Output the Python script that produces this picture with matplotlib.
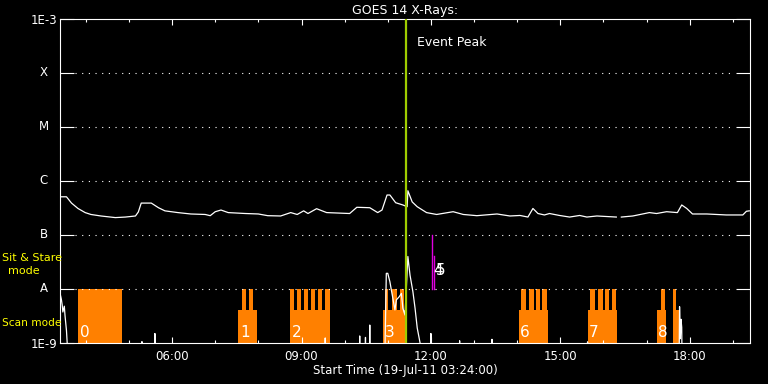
import matplotlib
matplotlib.use('Agg')
import matplotlib.pyplot as plt
import matplotlib.dates as mdates
import numpy as np
import pandas as pd

DAY = "2011-07-19 "

# long channel (1-8 A), W/m^2
long_times = ["03:24", "03:33", "03:40", "03:49", "03:59", "04:07", "04:21", "04:41", "04:55", "05:09",
              "05:13", "05:17", "05:24", "05:31", "05:41", "05:50", "06:08", "06:26", "06:46", "06:53",
              "07:00", "07:08", "07:18", "07:42", "08:00", "08:13", "08:31", "08:45", "08:54", "09:03",
              "09:09", "09:21", "09:35", "10:07", "10:17", "10:35", "10:46", "10:52", "10:59", "11:03",
              "11:11", "11:21", "11:27", "11:28", "11:34", "11:41", "11:54", "12:08", "12:31", "12:45",
              "13:04", "13:32", "13:50", "14:04", "14:15", "14:22", "14:29", "14:38", "14:45", "14:59",
              "15:13", "15:27", "15:37", "15:51", "16:18", "16:21", "16:25", "16:41", "17:04", "17:14",
              "17:28", "17:43", "17:49", "17:56", "18:04", "18:24", "18:51", "19:14", "19:19", "19:23"]
long_flux = [5.1e-7, 5.1e-7, 3.9e-7, 3.1e-7, 2.6e-7, 2.4e-7, 2.25e-7, 2.1e-7, 2.15e-7, 2.25e-7,
             2.67e-7, 3.9e-7, 3.9e-7, 3.9e-7, 3.2e-7, 2.8e-7, 2.6e-7, 2.45e-7, 2.4e-7, 2.28e-7,
             2.7e-7, 2.9e-7, 2.6e-7, 2.5e-7, 2.45e-7, 2.28e-7, 2.25e-7, 2.6e-7, 2.4e-7, 2.8e-7,
             2.5e-7, 3.07e-7, 2.6e-7, 2.5e-7, 3.26e-7, 3.2e-7, 2.6e-7, 2.9e-7, 5.5e-7, 5.5e-7,
             3.96e-7, 3.6e-7, 3.34e-7, 6.6e-7, 4.1e-7, 3.34e-7, 2.6e-7, 2.4e-7, 2.7e-7, 2.4e-7,
             2.28e-7, 2.45e-7, 2.25e-7, 2.3e-7, 2.15e-7, 3.1e-7, 2.5e-7, 2.35e-7, 2.5e-7, 2.3e-7,
             2.15e-7, 2.3e-7, 2.15e-7, 2.25e-7, 2.15e-7, np.nan, 2.15e-7, 2.25e-7, 2.6e-7, 2.5e-7,
             2.7e-7, 2.6e-7, 3.6e-7, 3.1e-7, 2.45e-7, 2.45e-7, 2.35e-7, 2.35e-7, 2.75e-7, 2.8e-7]

# short channel (0.5-4 A), mostly below 1e-9
short_times = ["03:24", "03:26", "03:27", "03:28", "03:30", "03:31", "03:33", "03:34", "03:36",
               "05:17", "05:18", "05:19", "05:35", "05:36", "05:37",
               "09:32", "09:33", "09:34", "10:20", "10:21", "10:22",
               "10:28", "10:29", "10:30", "10:34", "10:35", "10:36",
               "10:55", "10:58", "11:00", "11:03", "11:05", "11:10", "11:12", "11:16", "11:19",
               "11:21", "11:24", "11:28", "11:31", "11:35", "11:38", "11:41", "11:45", "11:47",
               "11:59", "12:00", "12:01", "12:39", "12:40", "12:41",
               "13:24", "13:25", "13:26", "15:37", "15:38", "15:39",
               "17:45", "17:46", "17:47", "17:48", "17:49", "17:50"]
short_flux = [8.4e-9, 6.3e-9, 5.1e-9, 3.75e-9, 4.8e-9, 3.2e-9, 1.7e-9, 1e-9, 1e-10,
              1e-10, 1.06e-9, 1e-10, 1e-10, 1.5e-9, 1e-10,
              1e-10, 1.24e-9, 1e-10, 1e-10, 1.35e-9, 1e-10,
              1e-10, 1.27e-9, 1e-10, 1e-10, 2.15e-9, 1e-10,
              1e-10, 1.95e-8, 1.95e-8, 1.36e-8, 9.6e-9, 4.1e-9, 6.3e-9, 7.2e-9, 8.3e-9,
              4.4e-9, 3.3e-9, 4.0e-8, 1.8e-8, 8.9e-9, 4.4e-9, 1.9e-9, 1e-9, 1e-10,
              1e-10, 1.5e-9, 1e-10, 1e-10, 1.1e-9, 1e-10,
              1e-10, 1.17e-9, 1e-10, 1e-10, 1.05e-9, 1e-10,
              1e-10, 4.7e-9, 1.2e-9, 2.75e-9, 1.95e-9, 1e-10]

# observing modes
scan_start = ["07:32", "08:44", "10:54", "14:02", "15:38", "17:14", "17:37"]
scan_end = ["07:58", "09:40", "11:24", "14:43", "16:19", "17:27", "17:45"]
stare_start = ["03:49", "07:37", "07:47", "08:44", "08:54", "09:03", "09:13", "09:23", "09:33",
               "10:56", "11:06", "11:17", "14:06", "14:16", "14:26", "14:35",
               "15:42", "15:52", "16:02", "16:12", "17:20", "17:37"]
stare_end = ["04:50", "07:43", "07:52", "08:50", "08:59", "09:09", "09:19", "09:29", "09:40",
             "11:01", "11:13", "11:23", "14:13", "14:23", "14:32", "14:42",
             "15:49", "15:59", "16:08", "16:18", "17:26", "17:41"]
stare_level = 1e-8
scan_level = 4e-9

obs_labels = ["0", "1", "2", "3", "4", "5", "6", "7", "8"]
obs_times = ["03:49", "07:32", "08:44", "10:54", "12:01", "12:05", "14:02", "15:38", "17:14"]
planned_times = ["12:01", "12:05"]
planned_top = [1e-7, 4.1e-8]

peak_time = "11:26"
yticks = [1e-9, 1e-8, 1e-7, 1e-6, 1e-5, 1e-4, 1e-3]
ylabels = ["1E-9", "A", "B", "C", "M", "X", "1E-3"]


def tt(lst):
    return pd.to_datetime([DAY + s for s in lst])


orange = '#ff8000'
fig = plt.figure(figsize=(7.68, 3.84), dpi=100, facecolor='black')
ax = fig.add_axes([60 / 768, 41 / 384, 690 / 768, 324 / 384], facecolor='black')
ax.set_yscale('log')
ax.set_ylim(1e-9, 1e-3)
ax.set_xlim(tt(["03:24", "19:24"]))

# mode bars
for s, e in zip(tt(scan_start), tt(scan_end)):
    ax.fill_between([s, e], 1e-10, scan_level, color=orange, lw=0, zorder=1)
for s, e in zip(tt(stare_start), tt(stare_end)):
    ax.fill_between([s, e], 1e-10, stare_level, color=orange, lw=0, zorder=1)

# planned windows
for t, top in zip(tt(planned_times), planned_top):
    ax.plot([t, t], [stare_level, top], color='#e000e0', lw=1.0, zorder=2)

for lab, t in zip(obs_labels, tt(obs_times)):
    y = 1.6e-8 if lab in ("4", "5") else 1.15e-9
    ax.annotate(lab, (t, y), xytext=(1.2, 0), textcoords='offset points',
                color='white', fontsize=11, va='bottom', ha='left', zorder=4)

ax.plot(tt(long_times), long_flux, color='white', lw=0.9, zorder=3)
ax.plot(tt(short_times), short_flux, color='white', lw=0.9, zorder=3)

# dotted class lines
for y in yticks[1:-1]:
    ax.axhline(y, xmin=15 / 690, xmax=1 - 15 / 690, color='white', lw=0.8,
               linestyle=(0, (1, 5)), zorder=2)

pk = tt([peak_time])[0]
ax.axvline(pk, color='#9fcc00', lw=1.6, zorder=5)
ax.annotate('Event Peak', (pk, 0.927), xycoords=('data', 'axes fraction'),
            xytext=(7.4, 0), textcoords='offset points', color='white',
            fontsize=9, va='center', ha='left')

# axes styling
for sp in ax.spines.values():
    sp.set_color('white')
    sp.set_linewidth(0.8)
ax.yaxis.set_major_locator(matplotlib.ticker.FixedLocator(yticks))
ax.yaxis.set_minor_locator(matplotlib.ticker.NullLocator())
ax.set_yticklabels(["1E-9", "", "", "", "", "", "1E-3"])
for y, lab in zip(yticks[1:-1], ylabels[1:-1]):
    ax.text(-0.0236, y, lab, transform=ax.get_yaxis_transform(), color='white',
            fontsize=8.5, ha='center', va='center')
ax.tick_params(axis='y', direction='in', length=10, width=0.8, colors='white',
               right=True, labelsize=8.5, pad=2.2)
ax.xaxis.set_major_locator(mdates.HourLocator(byhour=[6, 9, 12, 15, 18]))
ax.xaxis.set_minor_locator(mdates.HourLocator())
ax.xaxis.set_major_formatter(mdates.DateFormatter('%H:%M'))
ax.tick_params(axis='x', which='major', direction='in', length=4.3, width=0.8,
               colors='white', top=True, labelsize=8.5, pad=4.7)
ax.tick_params(axis='x', which='minor', direction='in', length=2.2, width=0.8,
               colors='white', top=True)

ax.set_title('GOES 14 X-Rays:', color='white', fontsize=9, pad=3.6)
ax.set_xlabel('Start Time (19-Jul-11 03:24:00)', color='white', fontsize=8.5, labelpad=1)

# mode legend on the left
fig.text(2 / 768, 1 - 258 / 384, 'Sit & Stare', color='yellow', fontsize=8,
         ha='left', va='center')
fig.text(24 / 768, 1 - 271 / 384, 'mode', color='yellow', fontsize=8,
         ha='center', va='center')
fig.text(2 / 768, 1 - 323 / 384, 'Scan mode', color='yellow', fontsize=7.6,
         ha='left', va='center')

fig.savefig('out.png', dpi=100, facecolor='black')
